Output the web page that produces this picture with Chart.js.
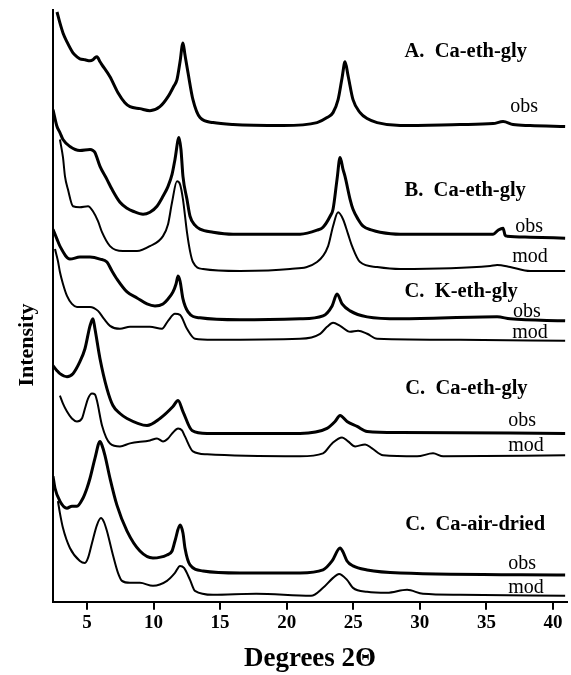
<!DOCTYPE html>
<html>
<head>
<meta charset="utf-8">
<script src="https://cdn.jsdelivr.net/npm/chart.js@4.4.1/dist/chart.umd.min.js"></script>
<style>
  body { margin: 0; background: #fff; }
  #wrap { width: 571px; height: 675px; }
</style>
</head>
<body>
<div id="wrap"><canvas id="xrdChart" width="571" height="675"></canvas></div>
<script>
// x axis (degrees 2-theta)
const xTicks = [5, 10, 15, 20, 25, 30, 35, 40];

// panel titles and obs/mod tags, top to bottom
const panelLabels = ['A.  Ca-eth-gly', 'B.  Ca-eth-gly', 'C.  K-eth-gly', 'C.  Ca-eth-gly', 'C.  Ca-air-dried'];
const traceTags = ['obs', 'obs', 'mod', 'obs', 'mod', 'obs', 'mod', 'obs', 'mod'];

// vertical offset of each pattern in the stack (same order as traceTags)
const traceOffsets = [478, 367, 332, 282, 263, 169, 146, 28, 7];

// [2theta, intensity above baseline]
const aObs = [[2.75,114],[2.97,103],[3.2,93],[3.5,84],[3.95,73],[4.25,69],[4.47,67],[4.85,66],[5.23,65],[5.45,66],
  [5.6,68],[5.75,69],[5.98,64],[6.13,61],[6.73,49],[7.33,33],[7.85,23],[8.23,19],[8.98,17],[9.73,15],
  [10.48,19],[11.09,29],[11.54,40],[11.76,46],[11.99,64],[12.21,83],[12.36,71],[12.59,53],[12.96,26],[13.49,8],
  [14.47,3],[15.97,1],[19.73,0],[22.28,3],[23.03,8],[23.48,13],[23.86,26],[24.16,48],[24.38,64],[24.61,50],
  [24.98,26],[25.51,13],[26.04,7],[26.79,3],[28.52,0],[33.0,1],[35.5,2],[36.25,4],[37.0,1],[38.28,0],[40.91,-1]];

const bObs = [[2.45,127],[2.75,110],[2.97,104],[3.2,97],[3.72,90],[4.47,86],[5.23,87],[5.45,86],[5.6,84],[5.98,70],
  [6.5,57],[6.88,47],[7.48,34],[8.01,28],[8.46,25],[9.21,22],[9.73,24],[10.26,30],[10.71,40],[11.09,50],
  [11.39,62],[11.61,77],[11.91,99],[12.06,87],[12.21,60],[12.51,37],[12.74,20],[13.11,11],[13.49,7],[14.47,4],
  [15.97,2],[21.0,2],[22.28,6],[22.73,9],[23.26,20],[23.48,27],[23.78,57],[24.01,79],[24.23,67],[24.38,60],
  [24.76,37],[24.98,27],[25.36,17],[25.74,10],[26.41,6],[27.01,4],[28.52,2],[33.02,2],[35.5,2],[35.88,6],
  [36.25,8],[36.4,1],[36.55,0],[38.28,-1],[40.91,-2]];

const bMod = [[2.97,132],[3.2,114],[3.35,95],[3.57,82],[3.95,65],[4.47,64],[5.08,65],[5.45,60],[5.83,50],[6.13,39],
  [6.73,25],[7.7,20],[8.76,20],[9.73,25],[10.71,35],[11.09,47],[11.39,69],[11.76,90],[11.99,87],[12.21,72],
  [12.51,39],[12.74,20],[12.96,9],[13.72,2],[16.49,0],[20.25,2],[22.28,9],[23.11,25],[23.48,45],[23.86,59],
  [24.23,52],[24.61,37],[24.91,25],[25.51,9],[26.79,4],[28.52,2],[35.28,5],[35.8,6],[36.78,4],[38.28,0],[40.91,0]];

const kObs = [[2.45,92],[2.75,82],[2.97,75],[3.72,62],[4.47,64],[5.23,64],[5.98,62],[6.5,59],[6.88,50],[7.25,42],
  [8.01,29],[8.76,23],[9.51,17],[10.11,15],[10.71,17],[11.09,22],[11.46,29],[11.69,37],[11.84,45],[11.99,40],
  [12.21,22],[12.59,9],[13.49,3],[16.49,1],[21.0,2],[22.73,5],[23.41,15],[23.78,27],[24.16,17],[24.76,10],
  [26.04,4],[28.52,2],[35.8,4],[36.78,2],[40.91,0]];

const kMod = [[2.6,91],[2.82,79],[2.97,68],[3.2,56],[3.5,44],[3.87,36],[4.25,33],[5.23,33],[5.83,29],[6.28,21],
  [6.73,14],[7.48,11],[8.23,13],[9.73,13],[10.63,11],[11.09,19],[11.61,26],[11.99,25],[12.51,11],[13.11,1],
  [14.47,0],[21.0,1],[22.51,6],[23.03,13],[23.48,17],[24.01,14],[24.76,8],[25.36,9],[26.04,6],[26.79,1],
  [33.02,0],[40.91,-1]];

const caObs = [[2.45,68],[2.75,63],[2.97,60],[3.5,57],[3.95,60],[4.47,72],[4.85,85],[5.23,108],[5.45,115],[5.6,105],
  [5.98,75],[6.5,45],[6.95,28],[7.48,20],[8.01,15],[9.51,8],[10.48,15],[11.46,27],[11.84,33],[12.21,22],
  [12.89,3],[14.02,0],[21.0,0],[23.03,5],[23.63,12],[24.01,18],[24.53,12],[25.29,7],[26.04,2],[28.52,1],[40.91,0]];

const caMod = [[2.97,61],[3.2,53],[3.5,45],[3.87,38],[4.25,35],[4.62,38],[4.85,48],[5.08,58],[5.38,63],[5.6,62],
  [5.75,56],[6.13,31],[6.73,13],[7.48,10],[8.23,13],[9.73,16],[10.26,18],[10.71,15],[11.09,18],[11.46,24],
  [11.84,28],[12.14,26],[12.36,20],[12.96,5],[14.02,2],[21.0,0],[22.73,3],[23.41,13],[24.16,19],[24.61,15],
  [25.14,10],[25.89,12],[26.41,8],[27.24,1],[29.79,0],[30.99,3],[31.75,0],[40.91,1]];

const airObs = [[2.45,98],[2.6,86],[2.97,73],[3.5,66],[3.87,68],[4.25,68],[4.7,76],[5.0,86],[5.23,96],[5.6,116],
  [5.98,133],[6.13,129],[6.35,119],[6.73,96],[7.25,69],[8.01,43],[8.98,23],[9.96,16],[11.01,19],[11.39,23],
  [11.61,33],[11.99,49],[12.21,41],[12.36,26],[12.74,9],[13.72,3],[16.49,1],[21.0,1],[22.73,4],[23.41,13],
  [24.01,26],[24.23,22],[24.53,13],[24.98,8],[26.04,4],[28.52,1],[40.91,-1]];

const airMod = [[2.82,94],[2.97,82],[3.2,67],[3.72,47],[4.47,34],[4.85,32],[5.08,37],[5.38,52],[5.75,70],[6.05,77],
  [6.28,73],[6.5,64],[6.95,40],[7.33,22],[7.63,14],[8.23,12],[8.98,12],[9.96,9],[11.01,14],[11.61,22],
  [11.99,29],[12.29,27],[12.74,15],[13.11,4],[14.47,0],[17.7,1],[21.83,-1],[22.73,7],[23.48,17],[23.93,21],
  [24.53,15],[24.98,7],[26.04,3],[27.54,2],[29.04,5],[30.24,1],[33.02,0],[40.91,-1]];

const traces = [aObs, bObs, bMod, kObs, kMod, caObs, caMod, airObs, airMod];

// where the text sits, in axis units [2theta, y]
const panelLabelPos = [[28.85, 547], [28.85, 407], [28.85, 306], [28.9, 209], [28.9, 72]];
const tagPos = [[36.78, 492], [37.16, 371], [36.93, 341], [37.0, 286], [36.93, 265],
  [36.63, 176], [36.63, 151], [36.63, 33], [36.63, 9]];

const serif = '"Liberation Serif", "Times New Roman", serif';

const datasets = traces.map(function(pts, i) {
  const isObs = traceTags[i] === 'obs';
  return {
    label: panelLabels[[0, 1, 1, 2, 2, 3, 3, 4, 4][i]] + ' ' + traceTags[i],
    data: pts.map(p => ({ x: p[0], y: p[1] + traceOffsets[i] })),
    borderColor: '#000',
    borderWidth: isObs ? 3 : 2,
    pointRadius: 0,
    fill: false,
    cubicInterpolationMode: 'monotone',
    borderJoinStyle: 'round'
  };
});

// draws the panel titles, obs/mod tags and the y axis title
const textPlugin = {
  id: 'traceText',
  afterDatasetsDraw(chart) {
    const ctx = chart.ctx;
    const xs = chart.scales.x;
    const ys = chart.scales.y;
    ctx.save();
    ctx.fillStyle = '#000';
    ctx.textAlign = 'left';
    ctx.textBaseline = 'alphabetic';
    ctx.font = 'bold 20.5px ' + serif;
    panelLabels.forEach(function(t, i) {
      ctx.fillText(t, xs.getPixelForValue(panelLabelPos[i][0]), ys.getPixelForValue(panelLabelPos[i][1]));
    });
    ctx.font = '20px ' + serif;
    traceTags.forEach(function(t, i) {
      ctx.fillText(t, xs.getPixelForValue(tagPos[i][0]), ys.getPixelForValue(tagPos[i][1]));
    });
    // y axis title
    ctx.translate(27, 345);
    ctx.rotate(-Math.PI / 2);
    ctx.textAlign = 'center';
    ctx.textBaseline = 'middle';
    ctx.font = 'bold 22px ' + serif;
    ctx.fillText('Intensity', 0, 0);
    ctx.restore();
  }
};

const ctx = document.getElementById('xrdChart').getContext('2d');
const xrdChart = new Chart(ctx, {
  type: 'line',
  data: { datasets: datasets },
  options: {
    responsive: false,
    animation: false,
    events: [],
    layout: { padding: { left: 53, right: 4, top: 10, bottom: 0 } },
    plugins: {
      legend: { display: false },
      tooltip: { enabled: false }
    },
    scales: {
      x: {
        type: 'linear',
        min: 2.45,
        max: 41.05,
        afterBuildTicks: function(axis) {
          axis.ticks = xTicks.map(v => ({ value: v }));
        },
        grid: { drawOnChartArea: false, drawTicks: true, tickLength: 8, color: '#000', lineWidth: 2 },
        border: { display: true, color: '#000', width: 2 },
        ticks: { color: '#000', padding: 2, maxRotation: 0, font: { family: serif, size: 19, weight: 'bold' } },
        title: {
          display: true,
          text: 'Degrees 2Θ',
          color: '#000',
          font: { family: serif, size: 27, weight: 'bold' },
          padding: { top: 6, bottom: 0 }
        }
      },
      y: {
        type: 'linear',
        min: 0,
        max: 594,
        ticks: { display: false },
        grid: { drawOnChartArea: false, drawTicks: false },
        border: { display: true, color: '#000', width: 2 }
      }
    }
  },
  plugins: [textPlugin]
});
</script>
</body>
</html>
